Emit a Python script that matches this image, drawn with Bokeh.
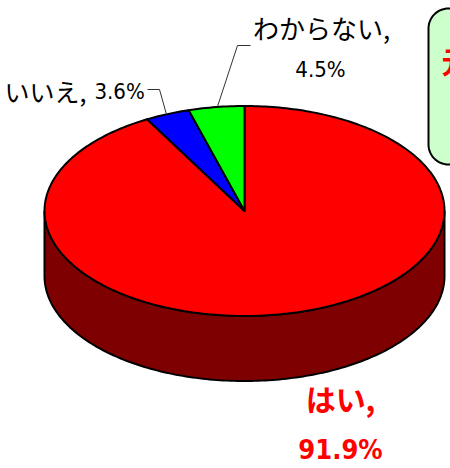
import numpy as np
from bokeh.plotting import figure
from bokeh.embed import file_html
from bokeh.resources import INLINE
from bokeh.core.properties import value

categories = ["はい", "いいえ", "わからない"]
shares = [91.9, 3.6, 4.5]
colors = ["#FF0000", "#0000FF", "#00FF00"]
side_color = "#7F0000"

W, H = 450, 468
CX, CY, RX, RY, DEPTH = 244, 210.5, 200, 105, 65

p = figure(width=W, height=H, x_range=(0, W), y_range=(H, 0), output_backend="svg",
           toolbar_location=None, min_border=0, outline_line_color=None)
p.axis.visible = False
p.grid.visible = False
p.background_fill_color = "white"
p.border_fill_color = "white"


def ell(deg):
    t = np.radians(deg)
    return CX + RX * np.sin(t), CY - RY * np.cos(t)


# side wall
t = np.linspace(90, 270, 181)
x, y = ell(t)
p.patch(np.r_[x, x[::-1]], np.r_[y, y[::-1] + DEPTH], fill_color=side_color,
        line_color="black", line_width=2)

# top slices, clockwise from 12 o'clock
start = 0.0
total = sum(shares)
for s, c in zip(shares, colors):
    end = start + s / total * 360
    t = np.linspace(start, end, max(int(end - start), 2) + 1)
    x, y = ell(t)
    p.patch(np.r_[CX, x], np.r_[CY, y], fill_color=c, line_color="black",
            line_width=2, line_join="round")
    start = end

# leader lines
p.line([147, 159, 166], [89, 89, 114], line_color="#333333", line_width=1)
p.line([250, 237, 217], [45, 45, 106], line_color="#333333", line_width=1)

# callout box
bx, by, bw, bh, r = 428, 8, 60, 156, 20
a = np.radians(np.linspace(0, 90, 16))
bxs = np.r_[bx + r - r * np.cos(a), bx + bw - r + r * np.sin(a),
            bx + bw - r + r * np.cos(a), bx + r - r * np.sin(a)]
bys = np.r_[by + r - r * np.sin(a), by + r - r * np.cos(a),
            by + bh - r + r * np.sin(a), by + bh - r + r * np.cos(a)]
p.patch(bxs, bys, fill_color="#CCFFCC", line_color="black", line_width=2)

CJK = value("Noto Sans CJK JP")
NARROW = value("DejaVu Sans Condensed")
labels = [
    (4, 90, f"{categories[1]},", "black", "normal", "left", "25px", CJK),
    (94, 91, f"{shares[1]}%", "black", "normal", "left", "22px", NARROW),
    (321, 27, f"{categories[2]},", "black", "normal", "center", "26px", CJK),
    (320, 69, f"{shares[2]}%", "black", "normal", "center", "22px", NARROW),
    (340, 397, f"{categories[0]},", "#FF0000", "bold", "center", "30px", CJK),
    (340, 449, f"{shares[0]}%", "#FF0000", "bold", "center", "27px", NARROW),
]
for lx, ly, txt, col, weight, align, size, font in labels:
    p.text([lx], [ly], text=[txt], text_color=col, text_font=font, text_font_style=weight,
           text_align=align, text_baseline="middle", text_font_size=size)

p.text([441], [59], text=["元"], text_color="#FF0000", text_font=CJK,
       text_font_style="bold", text_align="left", text_baseline="middle", text_font_size="30px")

open("out.html", "w").write(file_html(p, INLINE))
